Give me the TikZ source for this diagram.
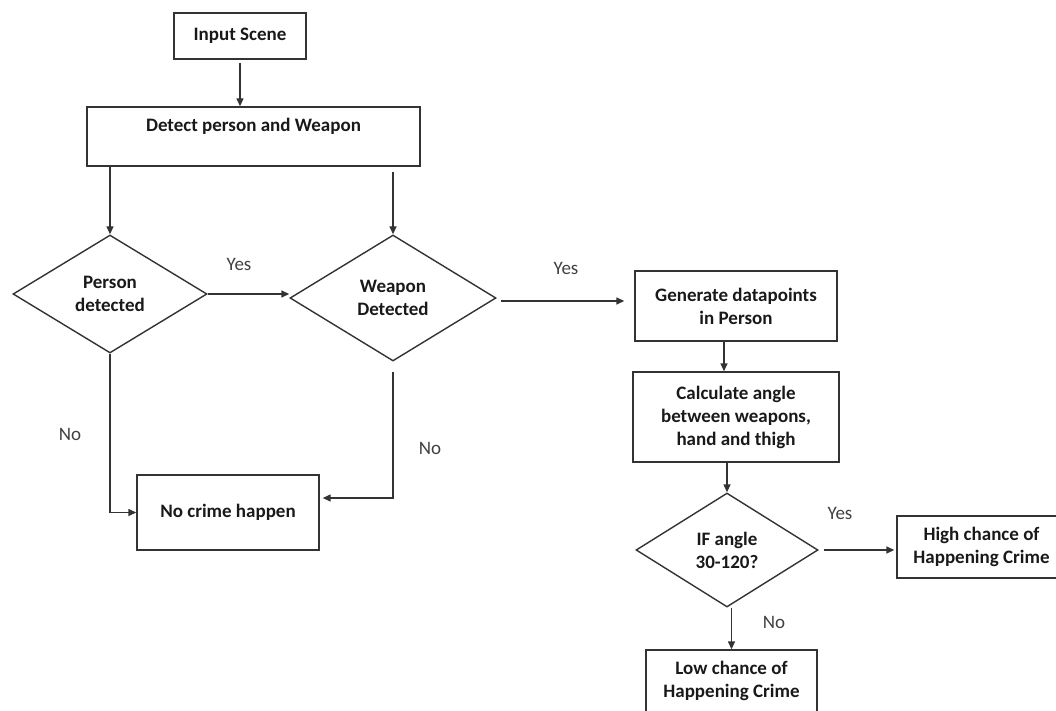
\documentclass[tikz,border=0pt]{standalone}
\usepackage{fontspec}
\setmainfont{Carlito}
\usetikzlibrary{shapes.geometric,arrows.meta}
\tikzset{
  box/.style={draw=black!80, line width=1.4pt, rectangle, inner sep=0pt, align=center,
    font=\fontsize{19}{23}\selectfont\bfseries, text=black!90},
  dia/.style={draw=black!80, line width=1.4pt, diamond, inner sep=0pt, align=center,
    font=\fontsize{19}{23}\selectfont\bfseries, text=black!90},
  arr/.style={draw=black!80, line width=1.4pt, -{Triangle[length=8pt,width=7pt]}},
  lbl/.style={font=\fontsize{19}{23}\selectfont, text=black!75, inner sep=0pt}
}
\begin{document}
\begin{tikzpicture}[x=1pt,y=-1pt]
\useasboundingbox (0,0) rectangle (1056,711);
\clip (0,0) rectangle (1056,711);
% nodes
\node[box, minimum width=132pt, minimum height=46pt] (input) at (240,36) {Input Scene};
\node[box, minimum width=333pt, minimum height=59pt] (detect) at (253.5,136.5) {Detect person and Weapon\\\mbox{}};
\node[dia, minimum width=194pt, minimum height=118pt] (person) at (110,294) {Person\\detected};
\node[dia, minimum width=206pt, minimum height=126pt] (weapon) at (393,298) {Weapon\\Detected};
\node[box, minimum width=182pt, minimum height=75pt] (nocrime) at (228,512.5) {No crime happen};
\node[box, minimum width=202pt, minimum height=70pt] (gen) at (736,306) {Generate datapoints\\in Person};
\node[box, minimum width=206pt, minimum height=90pt] (calc) at (736,417) {Calculate angle\\between weapons,\\hand and thigh};
\node[dia, minimum width=182pt, minimum height=114pt] (ifd) at (727,550) {IF angle\\30-120?};
\node[box, minimum width=169pt, minimum height=62pt] (high) at (981.5,547) {High chance of\\Happening Crime};
\node[box, minimum width=171pt, minimum height=62pt] (low) at (731.5,681) {Low chance of\\Happening Crime};
% labels
\node[lbl] (y1) at (239,264) {Yes};
\node[lbl] (y2) at (566,268) {Yes};
\node[lbl] (y3) at (840,513) {Yes};
\node[lbl] (n1) at (70,434) {No};
\node[lbl] (n2) at (430,448) {No};
\node[lbl] (n3) at (774,622) {No};
% connectors
\draw[arr] ([yshift=-3pt]input.south) -- (input.south |- detect.north);
\draw[arr] (person.north |- detect.south) -- (person.north);
\draw[arr] ([yshift=-5pt]weapon.north |- detect.south) -- (weapon.north);
\draw[arr] (person.east) -- (person.east -| weapon.west);
\draw[arr] ([shift={(4pt,-3pt)}]weapon.east) -- ([shift={(-10pt,-3pt)}]weapon.east -| gen.west);
\draw[arr] ([xshift=-12pt]gen.south) -- ([xshift=-12pt]gen.south |- calc.north);
\draw[arr] (ifd.north |- calc.south) -- (ifd.north);
\draw[arr] ([xshift=5pt]ifd.east) -- ([xshift=-2pt]ifd.east -| high.west);
\draw[arr] (low.north |- ifd.south) -- (low.north);
\draw[arr] (person.south) |- (nocrime.west);
\draw[arr] ([yshift=-10pt]weapon.south) |- ([shift={(3pt,14.5pt)}]nocrime.east);
\end{tikzpicture}
\end{document}
